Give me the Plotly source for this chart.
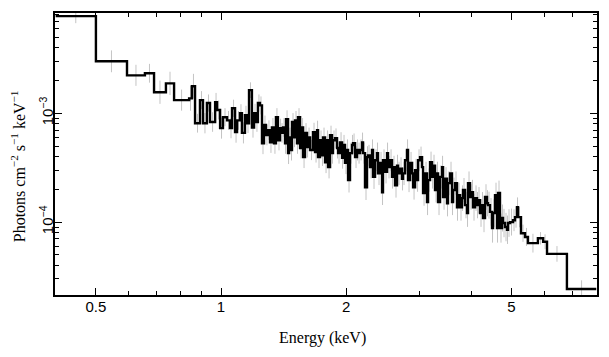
import numpy as np
import plotly.graph_objects as go

# Bin edges (keV)
edges = [
    0.40, 0.50, 0.594, 0.656, 0.690, 0.737, 0.771, 0.838, 0.851, 0.866,
    0.890, 0.905, 0.925, 0.941, 0.968, 0.978, 0.995, 1.011, 1.034, 1.051,
    1.063, 1.081, 1.093, 1.111, 1.123, 1.142, 1.155, 1.168, 1.187, 1.201,
    1.214, 1.227, 1.241, 1.255, 1.269, 1.283, 1.297, 1.312, 1.326, 1.341,
    1.356, 1.371, 1.387, 1.395, 1.410, 1.426, 1.434, 1.450, 1.458, 1.474,
    1.482, 1.499, 1.507, 1.524, 1.532, 1.550, 1.567, 1.576, 1.593, 1.611,
    1.620, 1.638, 1.665, 1.684, 1.703, 1.712, 1.731, 1.750, 1.760, 1.780,
    1.800, 1.810, 1.830, 1.850, 1.860, 1.881, 1.902, 1.913, 1.934, 1.956,
    1.967, 1.988, 2.010, 2.022, 2.044, 2.067, 2.079, 2.102, 2.125, 2.137,
    2.161, 2.185, 2.197, 2.221, 2.246, 2.258, 2.284, 2.309, 2.322, 2.348,
    2.374, 2.387, 2.414, 2.441, 2.454, 2.482, 2.510, 2.523, 2.552, 2.580,
    2.594, 2.623, 2.652, 2.667, 2.697, 2.727, 2.742, 2.773, 2.804, 2.819,
    2.851, 2.883, 2.899, 2.931, 2.964, 2.980, 3.013, 3.047, 3.064, 3.098,
    3.132, 3.150, 3.185, 3.220, 3.238, 3.274, 3.310, 3.329, 3.366, 3.404,
    3.423, 3.461, 3.499, 3.518, 3.558, 3.597, 3.617, 3.658, 3.698, 3.719,
    3.760, 3.802, 3.823, 3.866, 3.909, 3.931, 3.975, 4.019, 4.041, 4.087,
    4.132, 4.155, 4.201, 4.248, 4.271, 4.319, 4.367, 4.391, 4.440, 4.490,
    4.515, 4.565, 4.616, 4.642, 4.693, 4.746, 4.772, 4.825, 4.879, 4.906,
    4.961, 5.044, 5.100, 5.157, 5.186, 5.272, 5.39, 5.48, 5.79, 5.96,
    6.09, 6.80, 8.00,
]

# Flux per bin, in units of 1e-4 photons cm^-2 s^-1 keV^-1
flux_e4 = [
    78, 30, 22.3, 23.3, 15.6, 18.8, 13.2, 13.7, 17.7,
    8.1, 13.2, 8.1, 12.4, 8.3, 12.6, 10.7, 7.3, 9.2, 8.6,
    7.3, 11.1, 6.7, 8.6, 10.0, 6.6, 9.6, 8.1, 16.3, 7.4,
    10.0, 8.3, 12.4, 11.8, 5.3, 7.8, 6.3, 7.0, 5.4, 7.4,
    5.3, 9.2, 5.65, 7.3, 6.6, 7.4, 5.3, 8.8, 4.3, 6.0,
    4.6, 8.3, 6.0, 8.6, 5.3, 9.2, 4.8, 7.4, 3.95, 6.6,
    4.9, 6.0, 4.6, 6.7, 4.4, 7.0, 3.95, 5.65, 4.1, 6.0,
    3.55, 5.65, 3.2, 6.3, 4.3, 5.65, 5.9, 4.8, 4.3, 5.4,
    3.9, 5.1, 3.5, 4.6, 2.43, 4.3, 5.1, 5.3, 3.95, 4.6,
    4.3, 4.6, 5.4, 4.3, 2.09, 3.95, 4.1, 3.2, 4.6, 2.6,
    3.7, 4.3, 2.8, 3.5, 1.88, 3.7, 2.9, 4.3, 3.2, 3.7,
    2.6, 3.2, 2.18, 3.3, 2.8, 3.1, 2.5, 2.8, 3.7, 4.6,
    2.43, 3.5, 2.8, 2.09, 3.0, 2.43, 3.7, 3.95, 3.2, 1.85,
    2.8, 1.53, 2.43, 3.55, 2.6, 3.3, 1.97, 2.8, 1.53, 2.6,
    3.2, 1.70, 2.5, 1.49, 2.28, 2.8, 1.53, 1.97, 2.28, 1.37,
    1.77, 1.37, 1.66, 1.97, 1.43, 1.21, 2.28, 1.70, 1.88, 1.37,
    1.66, 1.43, 1.59, 1.21, 1.43, 1.09, 1.70, 1.49, 1.43, 1.24,
    0.88, 1.21, 1.77, 0.88, 1.85, 0.88, 1.09, 0.98, 0.90, 0.85,
    0.98, 1.00, 1.04, 1.11, 1.37, 1.11, 0.79, 0.73, 0.64, 0.71,
    0.66, 0.51, 0.243,
]

# Multiplicative 1-sigma error factor per bin
err_factor = [
    1.16, 1.26, 1.25, 1.22, 1.28, 1.28, 1.25, 1.30, 1.30,
    1.22, 1.21, 1.24, 1.20, 1.23, 1.22, 1.22, 1.25, 1.21, 1.22,
    1.24, 1.20, 1.25, 1.22, 1.21, 1.25, 1.22, 1.23, 1.18, 1.24,
    1.22, 1.23, 1.20, 1.21, 1.26, 1.22, 1.24, 1.23, 1.25, 1.22,
    1.25, 1.21, 1.24, 1.22, 1.23, 1.22, 1.25, 1.21, 1.26, 1.23,
    1.25, 1.21, 1.23, 1.22, 1.25, 1.21, 1.25, 1.22, 1.26, 1.23,
    1.25, 1.23, 1.24, 1.22, 1.25, 1.22, 1.26, 1.23, 1.25, 1.23,
    1.26, 1.23, 1.27, 1.22, 1.25, 1.23, 1.23, 1.25, 1.25, 1.24,
    1.26, 1.24, 1.27, 1.25, 1.30, 1.25, 1.24, 1.23, 1.26, 1.25,
    1.25, 1.25, 1.23, 1.25, 1.31, 1.26, 1.25, 1.27, 1.25, 1.29,
    1.26, 1.25, 1.28, 1.26, 1.31, 1.26, 1.28, 1.25, 1.27, 1.26,
    1.28, 1.27, 1.30, 1.26, 1.28, 1.27, 1.28, 1.28, 1.26, 1.25,
    1.29, 1.26, 1.28, 1.30, 1.27, 1.28, 1.26, 1.25, 1.27, 1.31,
    1.28, 1.32, 1.28, 1.25, 1.28, 1.26, 1.30, 1.28, 1.32, 1.28,
    1.27, 1.31, 1.28, 1.32, 1.29, 1.28, 1.32, 1.30, 1.28, 1.33,
    1.30, 1.33, 1.31, 1.29, 1.32, 1.34, 1.28, 1.31, 1.30, 1.33,
    1.31, 1.32, 1.32, 1.34, 1.32, 1.35, 1.31, 1.32, 1.33, 1.34,
    1.36, 1.34, 1.30, 1.36, 1.30, 1.36, 1.33, 1.35, 1.35, 1.35,
    1.34, 1.33, 1.26, 1.25, 1.23, 1.24, 1.20, 1.21, 1.22, 1.14,
    1.17, 1.18, 1.20,
]

x_major = [0.5, 1, 2, 5]
x_major_text = ["0.5", "1", "2", "5"]
x_minor = [0.6, 0.7, 0.8, 0.9, 3, 4, 6, 7]
y_major = [1e-4, 1e-3]
y_major_text = ["10<sup>−4</sup>", "10<sup>−3</sup>"]
y_minor = [3e-5, 4e-5, 5e-5, 6e-5, 7e-5, 8e-5, 9e-5,
           2e-4, 3e-4, 4e-4, 5e-4, 6e-4, 7e-4, 8e-4, 9e-4,
           2e-3, 3e-3, 4e-3, 5e-3, 6e-3, 7e-3, 8e-3]

assert len(edges) == len(flux_e4) + 1 == len(err_factor) + 1

e = np.array(edges)
flux = np.array(flux_e4) * 1e-4
fac = np.array(err_factor)
centers = np.sqrt(e[:-1] * e[1:])
err_up = flux * (fac - 1)
err_dn = flux * (1 - 1 / fac)

fig = go.Figure()
fig.add_trace(go.Scatter(
    x=centers, y=flux, mode="markers",
    marker=dict(size=0.1, color="rgba(0,0,0,0)"),
    error_y=dict(type="data", array=err_up, arrayminus=err_dn, symmetric=False,
                 color="#c4c4c4", thickness=1, width=0),
    showlegend=False, hoverinfo="skip",
))
fig.add_trace(go.Scatter(
    x=e, y=np.append(flux, flux[-1]), mode="lines",
    line=dict(shape="hv", color="black", width=2.4),
    showlegend=False,
))

axis_common = dict(
    type="log", showline=True, linecolor="black", linewidth=2, mirror="allticks",
    ticks="inside", ticklen=7, tickwidth=1, tickcolor="black", showgrid=False,
    zeroline=False, tickmode="array", automargin=False,
    tickfont=dict(family="Liberation Sans, Arial, sans-serif", size=15, color="black"),
)

fig.update_xaxes(
    **axis_common, range=[-0.3995, 0.9049], tickvals=x_major, ticktext=x_major_text,
    ticklabelstandoff=-3,
    minor=dict(ticks="inside", ticklen=4, tickwidth=1, tickcolor="black",
               tickmode="array", tickvals=x_minor, showgrid=False),
)
fig.update_yaxes(
    **axis_common, range=[-4.67, -2.079], tickvals=y_major, ticktext=y_major_text,
    tickangle=-90, ticklabelstandoff=-6,
    minor=dict(ticks="inside", ticklen=4, tickwidth=1, tickcolor="black",
               tickmode="array", tickvals=y_minor, showgrid=False),
)

fig.update_layout(
    width=601, height=349,
    margin=dict(l=47, r=12, t=5, b=62, autoexpand=False),
    paper_bgcolor="white", plot_bgcolor="white",
    annotations=[
        dict(text="Energy (keV)", xref="paper", yref="paper", x=0.493, y=-0.1525,
             xanchor="center", yanchor="middle", showarrow=False,
             font=dict(family="Liberation Serif, Times New Roman, serif", size=16, color="black")),
        dict(text="Photons cm<sup>−2</sup> s<sup>−1</sup> keV<sup>−1</sup>",
             xref="paper", yref="paper", x=-0.068, y=0.457, textangle=-90,
             xanchor="center", yanchor="middle", showarrow=False,
             font=dict(family="Liberation Serif, Times New Roman, serif", size=16, color="black")),
    ],
)

fig.write_html("out.html")
